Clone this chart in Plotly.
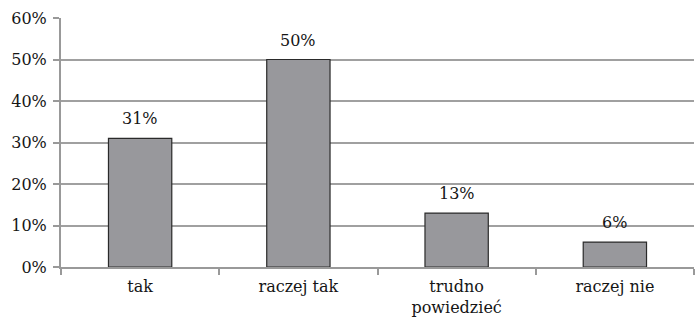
import plotly.graph_objects as go

categories = ["tak", "raczej tak", "trudno<br>powiedzieć", "raczej nie"]
values = [31, 50, 13, 6]
labels = ["31%", "50%", "13%", "6%"]
tick_vals = [0, 10, 20, 30, 40, 50, 60]
tick_text = ["0%", "10%", "20%", "30%", "40%", "50%", "60%"]

font = "DejaVu Serif"
fs = 16
txt = "#151515"

fig = go.Figure(go.Bar(
    x=categories, y=values,
    marker=dict(color="#98989c", line=dict(color="#2a2a2a", width=1.2)),
    width=0.4,
))

for c, v, t in zip(categories, values, labels):
    fig.add_annotation(x=c, y=v, text=t, showarrow=False, yanchor="bottom",
                       yshift=8, font=dict(family=font, size=fs, color=txt))

fig.update_layout(
    width=696, height=324,
    margin=dict(l=61, r=2, t=18, b=57),
    paper_bgcolor="white", plot_bgcolor="white",
    showlegend=False,
    font=dict(family=font, size=fs, color=txt),
)
fig.update_yaxes(
    range=[0, 60], tickvals=tick_vals, ticktext=tick_text,
    showgrid=True, gridcolor="#a0a0a0", gridwidth=2,
    showline=True, linecolor="#999", linewidth=2,
    ticks="outside", ticklen=6, tickcolor="#999", tickwidth=2,
    ticklabelstandoff=3,
    zeroline=False, tickfont=dict(family=font, size=fs, color=txt),
)
fig.update_xaxes(
    showline=True, linecolor="#999", linewidth=2,
    ticks="outside", tickson="boundaries", ticklen=6, tickcolor="#999", tickwidth=2,
    ticklabelstandoff=4,
    tickfont=dict(family=font, size=fs, color=txt),
)

fig.write_html("out.html")
